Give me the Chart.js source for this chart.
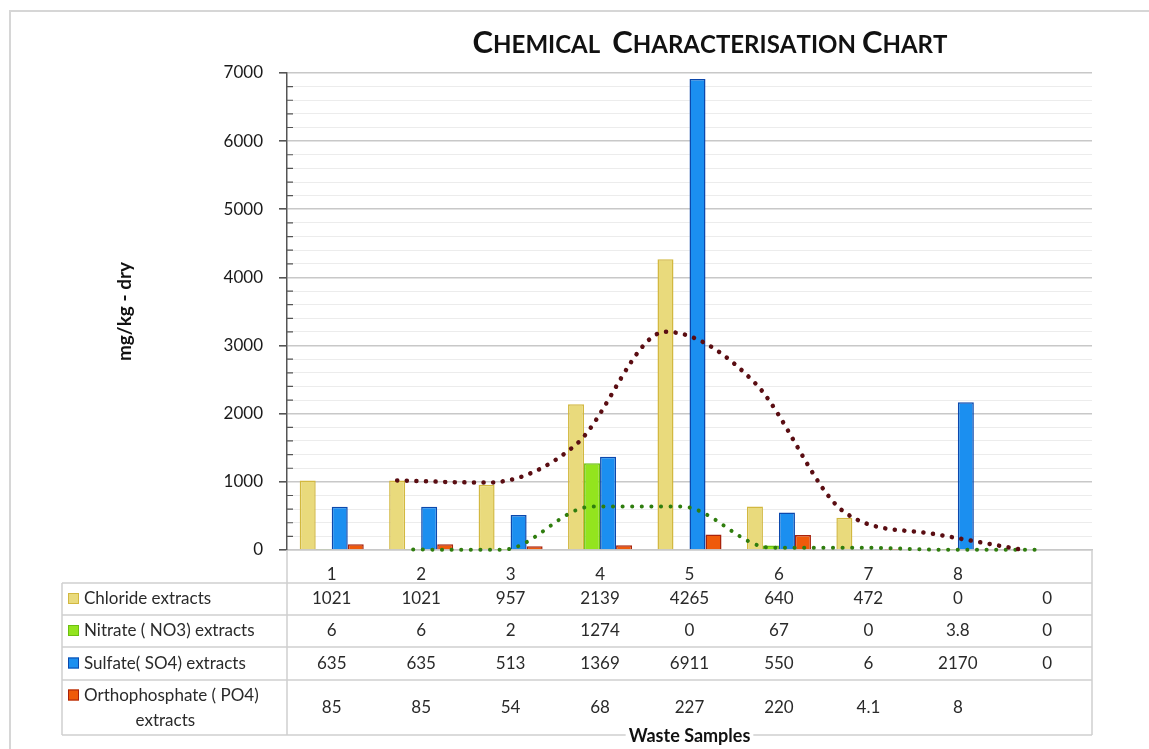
<!DOCTYPE html>
<html>
<head>
<meta charset="utf-8">
<title>Chemical Characterisation Chart</title>
<script src="https://cdn.jsdelivr.net/npm/chart.js@4.4.1/dist/chart.umd.min.js"></script>
<style>
  html, body { margin: 0; padding: 0; background: #fff; }
  #wrap { width: 1149px; height: 749px; position: relative; }
</style>
</head>
<body>
<div id="wrap"><canvas id="chemChart"></canvas></div>
<script>
const categories = ["1", "2", "3", "4", "5", "6", "7", "8", ""];
const chloride = [1021, 1021, 957, 2139, 4265, 640, 472, 0, 0];
const nitrate = [6, 6, 2, 1274, 0, 67, 0, 3.8, 0];
const sulfate = [635, 635, 513, 1369, 6911, 550, 6, 2170, 0];
const orthophosphate = [85, 85, 54, 68, 227, 220, 4.1, 8, null];
// dotted trendlines (2-point moving average)
const chlorideTrend = [null, 1021, 989, 1548, 3202, 2452, 556, 236, 0];
const nitrateTrend = [null, 6, 4, 638, 637, 33.5, 33.5, 1.9, 1.9];
const seriesNames = [
  ["Chloride extracts"],
  ["Nitrate ( NO3) extracts"],
  ["Sulfate( SO4) extracts"],
  ["Orthophosphate ( PO4)", "extracts"]
];
const chartTitle = "Chemical  Characterisation Chart";

const FONT = "Lato, 'Open Sans', sans-serif";
Chart.defaults.font.family = FONT;
Chart.defaults.font.size = 17;
Chart.defaults.color = "#2a2a2a";

// small-caps title, frame, data table under the plot
const extras = {
  id: "extras",
  beforeDraw(chart) {
    const ctx = chart.ctx;
    ctx.save();
    ctx.fillStyle = "#fff";
    ctx.fillRect(0, 0, chart.width, chart.height);
    ctx.strokeStyle = "#d6d6d6";
    ctx.lineWidth = 2;
    ctx.beginPath();
    ctx.moveTo(10, chart.height);
    ctx.lineTo(10, 11);
    ctx.lineTo(chart.width, 11);
    ctx.stroke();
    ctx.restore();
  },
  beforeDatasetDraw(chart, args) {
    const ds = chart.data.datasets[args.index];
    if (ds.trendOf === undefined) return;
    // Excel puts a column trendline on its own bar, not the category centre
    const bar = chart.getDatasetMeta(ds.trendOf).data[1];
    const shift = bar.x - chart.scales.x.getPixelForValue(1);
    chart.ctx.save();
    chart.ctx.translate(shift, 0);
  },
  afterDatasetDraw(chart, args) {
    if (chart.data.datasets[args.index].trendOf !== undefined) chart.ctx.restore();
  },
  afterDatasetsDraw(chart) {
    const ctx = chart.ctx;
    const area = chart.chartArea;
    const x = chart.scales.x;
    const tableLeft = 62;
    const headerH = 33;
    const rowH = [32, 32, 33, 55];
    const top = area.bottom + headerH;
    const ys = [top];
    rowH.forEach(h => ys.push(ys[ys.length - 1] + h));
    const bottom = ys[ys.length - 1];

    ctx.save();
    ctx.strokeStyle = "#d0d0d0";
    ctx.lineWidth = 1.5;
    ctx.beginPath();
    ys.slice(0, -1).forEach(y => { ctx.moveTo(tableLeft, y); ctx.lineTo(area.right, y); });
    ctx.moveTo(tableLeft, top); ctx.lineTo(tableLeft, bottom);
    ctx.moveTo(area.left, area.bottom); ctx.lineTo(area.left, bottom);
    ctx.moveTo(area.right, area.bottom); ctx.lineTo(area.right, bottom);
    ctx.stroke();

    // bottom edge, broken where the axis title sits on it
    ctx.font = "bold 18px " + FONT;
    const tw = ctx.measureText(x.options.title.text).width;
    const cx = (area.left + area.right) / 2;
    ctx.beginPath();
    ctx.moveTo(tableLeft, bottom); ctx.lineTo(cx - tw / 2 - 3, bottom);
    ctx.moveTo(cx + tw / 2 + 3, bottom); ctx.lineTo(area.right, bottom);
    ctx.stroke();

    ctx.font = "17px " + FONT;
    ctx.textBaseline = "middle";
    chart.data.datasets.forEach((ds, i) => {
      if (ds.type === "line") return;
      const yc = (ys[i] + ys[i + 1]) / 2;
      const lines = seriesNames[i];
      const ly = lines.length > 1 ? yc - 12 : yc;
      ctx.fillStyle = ds.backgroundColor;
      ctx.fillRect(68, ly - 6, 11, 11);
      ctx.strokeStyle = ds.borderColor;
      ctx.lineWidth = 1;
      ctx.strokeRect(68.5, ly - 5.5, 10, 10);
      ctx.fillStyle = "#2a2a2a";
      ctx.textAlign = "left";
      ctx.fillText(lines[0], 84, ly);
      if (lines.length > 1) {
        const w0 = ctx.measureText(lines[0]).width;
        ctx.textAlign = "center";
        ctx.fillText(lines[1], 84 + w0 / 2 - 6, yc + 13);
      }
      ctx.textAlign = "center";
      ds.data.forEach((v, j) => {
        if (v === null) return;
        ctx.fillText(String(v), x.getPixelForValue(j), yc);
      });
    });
    ctx.restore();
  },
  afterDraw(chart) {
    const ctx = chart.ctx;
    const y = chart.scales.y;
    ctx.save();
    // minor tick marks inside the value axis
    ctx.strokeStyle = "#555";
    ctx.lineWidth = 1.2;
    ctx.beginPath();
    y.ticks.forEach(t => {
      if (t.value % 1000 === 0) return;
      const py = y.getPixelForValue(t.value);
      ctx.moveTo(y.right, py);
      ctx.lineTo(y.right + 6, py);
    });
    ctx.stroke();

    // title in small caps
    const big = 31, small = 24;
    const parts = [...chartTitle].map(ch => {
      const up = ch !== " " && ch === ch.toUpperCase();
      return { ch: ch.toUpperCase(), size: up || ch === " " ? big : small };
    });
    ctx.fillStyle = "#111";
    ctx.textBaseline = "alphabetic";
    ctx.textAlign = "left";
    let total = 0;
    parts.forEach(p => {
      ctx.font = "bold " + p.size + "px " + FONT;
      p.w = ctx.measureText(p.ch).width * (p.ch === " " ? 0.8 : 1);
      total += p.w;
    });
    let px = 710 - total / 2;
    parts.forEach(p => {
      ctx.font = "bold " + p.size + "px " + FONT;
      ctx.fillText(p.ch, px, 53);
      px += p.w;
    });
    ctx.restore();
  }
};

new Chart(document.getElementById("chemChart"), {
  type: "bar",
  data: {
    labels: categories,
    datasets: [
      { label: seriesNames[0].join(" "), data: chloride, backgroundColor: "#e9da7c", borderColor: "#d2b840", borderWidth: 1.5 },
      { label: seriesNames[1].join(" "), data: nitrate, backgroundColor: "#93e41e", borderColor: "#6cbf10", borderWidth: 1.5 },
      { label: seriesNames[2].join(" "), data: sulfate, backgroundColor: "#1b8ff0", borderColor: "#0c48ac", borderWidth: 1.5 },
      { label: seriesNames[3].join(" "), data: orthophosphate, backgroundColor: "#ef5a0a", borderColor: "#a8220c", borderWidth: 1.5 },
      { type: "line", label: "2 per. Mov. Avg. (Chloride extracts)", data: chlorideTrend, trendOf: 0, order: -1,
        borderColor: "#5a0d12", borderWidth: 4.5, borderDash: [0.1, 9.5], borderCapStyle: "round",
        pointRadius: 0, cubicInterpolationMode: "monotone", fill: false, clip: 8 },
      { type: "line", label: "2 per. Mov. Avg. (Nitrate ( NO3) extracts)", data: nitrateTrend, trendOf: 1, order: -1,
        borderColor: "#2f7d0e", borderWidth: 4, borderDash: [0.1, 9.5], borderCapStyle: "round",
        pointRadius: 0, cubicInterpolationMode: "monotone", fill: false, clip: 8 }
    ]
  },
  options: {
    responsive: true,
    maintainAspectRatio: false,
    animation: false,
    layout: { padding: { left: 109, right: 57, top: 73, bottom: 0 } },
    datasets: { bar: { barPercentage: 1, categoryPercentage: 0.716 } },
    plugins: { legend: { display: false }, tooltip: { enabled: false }, title: { display: false } },
    scales: {
      x: {
        grid: { display: false },
        border: { display: true, color: "#c8c8c8", width: 1.5 },
        ticks: { padding: 6, color: "#2a2a2a", font: { size: 17 }, z: 1 },
        title: { display: true, text: "Waste Samples", color: "#111", font: { size: 18, weight: "bold" }, padding: { top: 0, bottom: 2 } },
        afterFit(s) { s.height = 199; }
      },
      y: {
        min: 0,
        max: 7000,
        ticks: {
          stepSize: 200,
          autoSkip: false,
          maxTicksLimit: 100,
          padding: 16,
          color: "#1a1a1a",
          font: { size: 17 },
          callback: v => (v % 1000 === 0 ? v : "")
        },
        grid: {
          color: c => (c.tick && c.tick.value % 1000 === 0 ? "#c8c8c8" : "#ececec"),
          lineWidth: c => (c.tick && c.tick.value % 1000 === 0 ? 1.6 : 1),
          tickColor: c => (c.tick && c.tick.value % 1000 === 0 ? "#555" : "rgba(0,0,0,0)"),
          tickLength: 8
        },
        border: { display: true, color: "#555", width: 1.5 },
        title: { display: true, text: "mg/kg - dry", color: "#111", font: { size: 19, weight: "bold" }, padding: { top: 4, bottom: 4 } },
        afterFit(s) { s.width = 178; }
      }
    }
  },
  plugins: [extras]
});
</script>
</body>
</html>
